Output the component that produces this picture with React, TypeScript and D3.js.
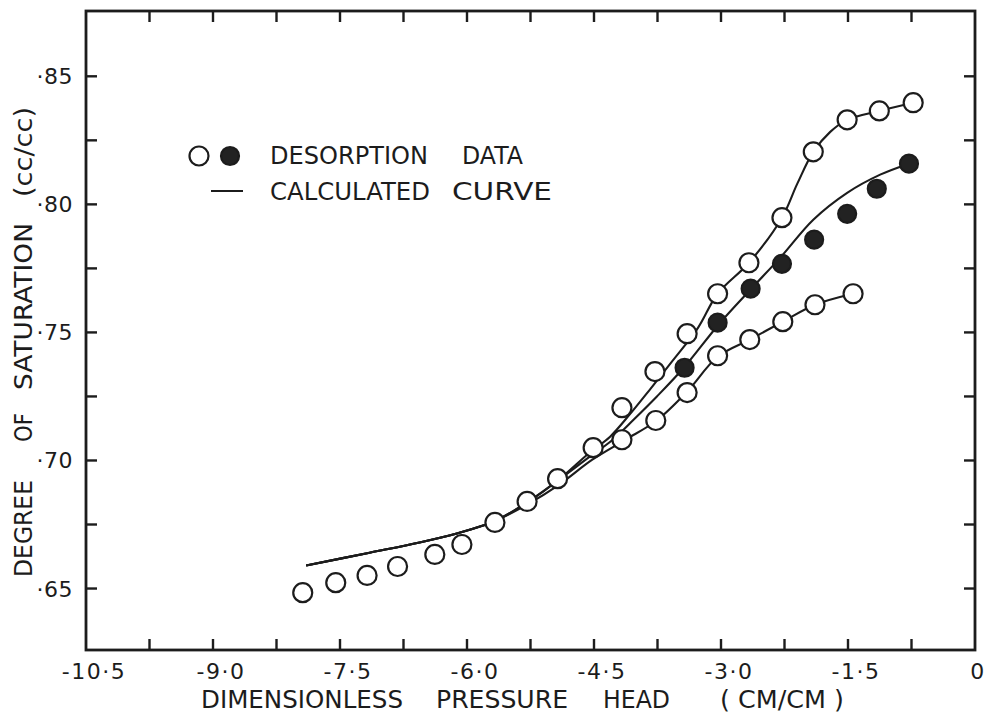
import React from "react";
import * as d3 from "d3";

// Dimensionless pressure head (cm/cm) and degree of saturation (cc/cc)

// Low-suction observations common to all three runs (open circles)
const sharedHead = [-7.94, -7.55, -7.18, -6.82, -6.38, -6.06, -5.67, -5.29, -4.93, -4.51];
const sharedSat = [0.6484, 0.6523, 0.6551, 0.6586, 0.6633, 0.6672, 0.6758, 0.684, 0.6929, 0.705];

// Run A – open circles, upper branch
const runAHead = [-4.17, -3.78, -3.4, -3.04, -2.67, -2.28, -1.91, -1.51, -1.13, -0.73];
const runASat = [0.7206, 0.7347, 0.7495, 0.7651, 0.7772, 0.7948, 0.8205, 0.833, 0.8365, 0.8397];

// Run B – filled circles, middle branch
const runBHead = [-3.43, -3.04, -2.65, -2.28, -1.9, -1.51, -1.16, -0.78];
const runBSat = [0.7362, 0.7538, 0.7671, 0.7768, 0.7862, 0.7963, 0.8061, 0.8159];

// Run C – open circles, lower branch
const runCHead = [-4.17, -3.77, -3.4, -3.04, -2.66, -2.27, -1.89, -1.44];
const runCSat = [0.7081, 0.7156, 0.7265, 0.7409, 0.7472, 0.7542, 0.7608, 0.7651];

// Calculated curves: shared lower limb, then three branches
const curveBaseHead = [-7.9, -7.15, -6.56, -6.12, -5.81, -5.66, -5.29, -4.93];
const curveBaseSat = [0.659, 0.664, 0.668, 0.6715, 0.6746, 0.6765, 0.6836, 0.6921];

const curveAHead = [-4.55, -4.31, -4.08, -3.84, -3.58, -3.27, -3.04, -2.67, -2.28, -2.1, -1.91, -1.71, -1.51, -1.13, -0.73];
const curveASat = [0.7031, 0.7093, 0.7179, 0.7277, 0.7386, 0.7519, 0.7651, 0.7772, 0.7948, 0.808, 0.8205, 0.8283, 0.833, 0.8365, 0.8397];

const curveBHead = [-4.55, -4.29, -4.03, -3.76, -3.44, -3.02, -2.63, -2.3, -1.91, -1.51, -1.12, -0.78];
const curveBSat = [0.7015, 0.7078, 0.716, 0.7249, 0.7362, 0.7534, 0.7675, 0.7792, 0.794, 0.8045, 0.8116, 0.8159];

const curveCHead = [-5.29, -4.91, -4.52, -4.13, -3.76, -3.4, -3.04, -2.66, -2.27, -1.89, -1.44];
const curveCSat = [0.6828, 0.6906, 0.7003, 0.7081, 0.7156, 0.7269, 0.7405, 0.7472, 0.7542, 0.7608, 0.7651];

// Axis ticks
const xMajorTicks = [-10.5, -9.0, -7.5, -6.0, -4.5, -3.0, -1.5, 0];
const xTickLabels = ["-10·5", "-9·0", "-7·5", "-6·0", "-4·5", "-3·0", "-1·5", "0"];
const xMinorTicks = [-9.75, -9.0, -8.25, -7.5, -6.75, -6.0, -5.25, -4.5, -3.75, -3.0, -2.25, -1.5, -0.75];
const yTicks = [0.65, 0.675, 0.7, 0.725, 0.75, 0.775, 0.8, 0.825, 0.85];
const yMajorTicks = [0.65, 0.7, 0.75, 0.8, 0.85];
const yTickLabels = ["·65", "·70", "·75", "·80", "·85"];

const W = 992;
const H = 717;
const INK = "#1c1c1c";
const FONT = "'DejaVu Sans', Verdana, sans-serif";

const x = d3.scaleLinear().domain([-10.5, 0]).range([86, 975]);
const y = d3.scaleLinear().domain([0.626, 0.8755]).range([650, 11]);

const zip = (a: number[], b: number[]) => a.map((v, i) => [v, b[i]] as [number, number]);

const line = d3
  .line<[number, number]>()
  .x((d) => x(d[0]))
  .y((d) => y(d[1]))
  .curve(d3.curveCatmullRom.alpha(0.5));

const curves = [
  [...zip(curveBaseHead, curveBaseSat), ...zip(curveAHead, curveASat)],
  [...zip(curveBaseHead, curveBaseSat), ...zip(curveBHead, curveBSat)],
  [...zip(curveBaseHead.slice(0, 6), curveBaseSat.slice(0, 6)), ...zip(curveCHead, curveCSat)],
];

const openPts = [
  ...zip(sharedHead, sharedSat),
  ...zip(runAHead, runASat),
  ...zip(runCHead, runCSat),
];
const filledPts = zip(runBHead, runBSat);

const TICK = 11;
const R = 9.5;

function Word({ x0, yb, len, text, size = 24 }: { x0: number; yb: number; len: number; text: string; size?: number }) {
  return (
    <text x={x0} y={yb} fontSize={size} textLength={len} lengthAdjust="spacingAndGlyphs" fill={INK}>
      {text}
    </text>
  );
}

export default function App() {
  const [x0, x1] = x.range();
  const [yb, yt] = y.range();
  return (
    <svg
      width={W}
      height={H}
      viewBox={`0 0 ${W} ${H}`}
      style={{ position: "absolute", left: 0, top: 0, background: "#fff" }}
      fontFamily={FONT}
    >
      <rect width={W} height={H} fill="#fff" />

      {/* calculated curves */}
      <g fill="none" stroke={INK} strokeWidth={2.1}>
        {curves.map((c, i) => (
          <path key={i} d={line(c) ?? ""} />
        ))}
      </g>

      {/* desorption data */}
      <g stroke={INK} strokeWidth={2.2}>
        {openPts.map((p, i) => (
          <circle key={"o" + i} cx={x(p[0])} cy={y(p[1])} r={R} fill="#fff" />
        ))}
        {filledPts.map((p, i) => (
          <circle key={"f" + i} cx={x(p[0])} cy={y(p[1])} r={R - 0.5} fill="#222" />
        ))}
      </g>

      {/* frame */}
      <rect x={x0} y={yt} width={x1 - x0} height={yb - yt} fill="none" stroke={INK} strokeWidth={2.8} />

      {/* ticks, pointing inward on all four sides */}
      <g stroke={INK} strokeWidth={2.4}>
        {xMinorTicks.map((t) => (
          <g key={"xt" + t}>
            <line x1={x(t)} x2={x(t)} y1={yb} y2={yb - TICK} />
            <line x1={x(t)} x2={x(t)} y1={yt} y2={yt + TICK} />
          </g>
        ))}
        {yTicks.map((t) => (
          <g key={"yt" + t}>
            <line x1={x0} x2={x0 + TICK} y1={y(t)} y2={y(t)} />
            <line x1={x1} x2={x1 - TICK} y1={y(t)} y2={y(t)} />
          </g>
        ))}
      </g>

      {/* tick labels */}
      <g fontSize={22} fill={INK} textAnchor="middle" letterSpacing={1.5}>
        {xMajorTicks.map((t, i) => (
          <text key={"xl" + t} x={x(t) + (t < 0 ? 8 : 3)} y={679}>
            {xTickLabels[i]}
          </text>
        ))}
      </g>
      <g fontSize={22} fill={INK} textAnchor="end" letterSpacing={0.5}>
        {yMajorTicks.map((t, i) => (
          <text key={"yl" + t} x={73} y={y(t) + 8}>
            {yTickLabels[i]}
          </text>
        ))}
      </g>

      {/* x axis title */}
      <Word x0={201} yb={708} len={202} text="DIMENSIONLESS" />
      <Word x0={436} yb={708} len={132} text="PRESSURE" />
      <Word x0={603} yb={708} len={67} text="HEAD" />
      <Word x0={720} yb={708} len={124} text="( CM/CM )" />

      {/* y axis title */}
      <g transform="translate(32,0) rotate(-90)">
        <Word x0={-577} yb={0} len={97} text="DEGREE" />
        <Word x0={-442} yb={0} len={29} text="OF" />
        <Word x0={-390} yb={0} len={167} text="SATURATION" />
        <Word x0={-197} yb={0} len={90} text="(cc/cc)" />
      </g>

      {/* legend */}
      <g stroke={INK} strokeWidth={2.2}>
        <circle cx={199} cy={156} r={R} fill="#fff" />
        <circle cx={230} cy={156} r={R - 0.5} fill="#222" />
        <line x1={211} x2={243} y1={191} y2={191} strokeWidth={2} />
      </g>
      <Word x0={270} yb={164} len={158} text="DESORPTION" />
      <Word x0={462} yb={164} len={61} text="DATA" />
      <Word x0={270} yb={200} len={160} text="CALCULATED" />
      <Word x0={452} yb={200} len={100} text="CURVE" />
    </svg>
  );
}
